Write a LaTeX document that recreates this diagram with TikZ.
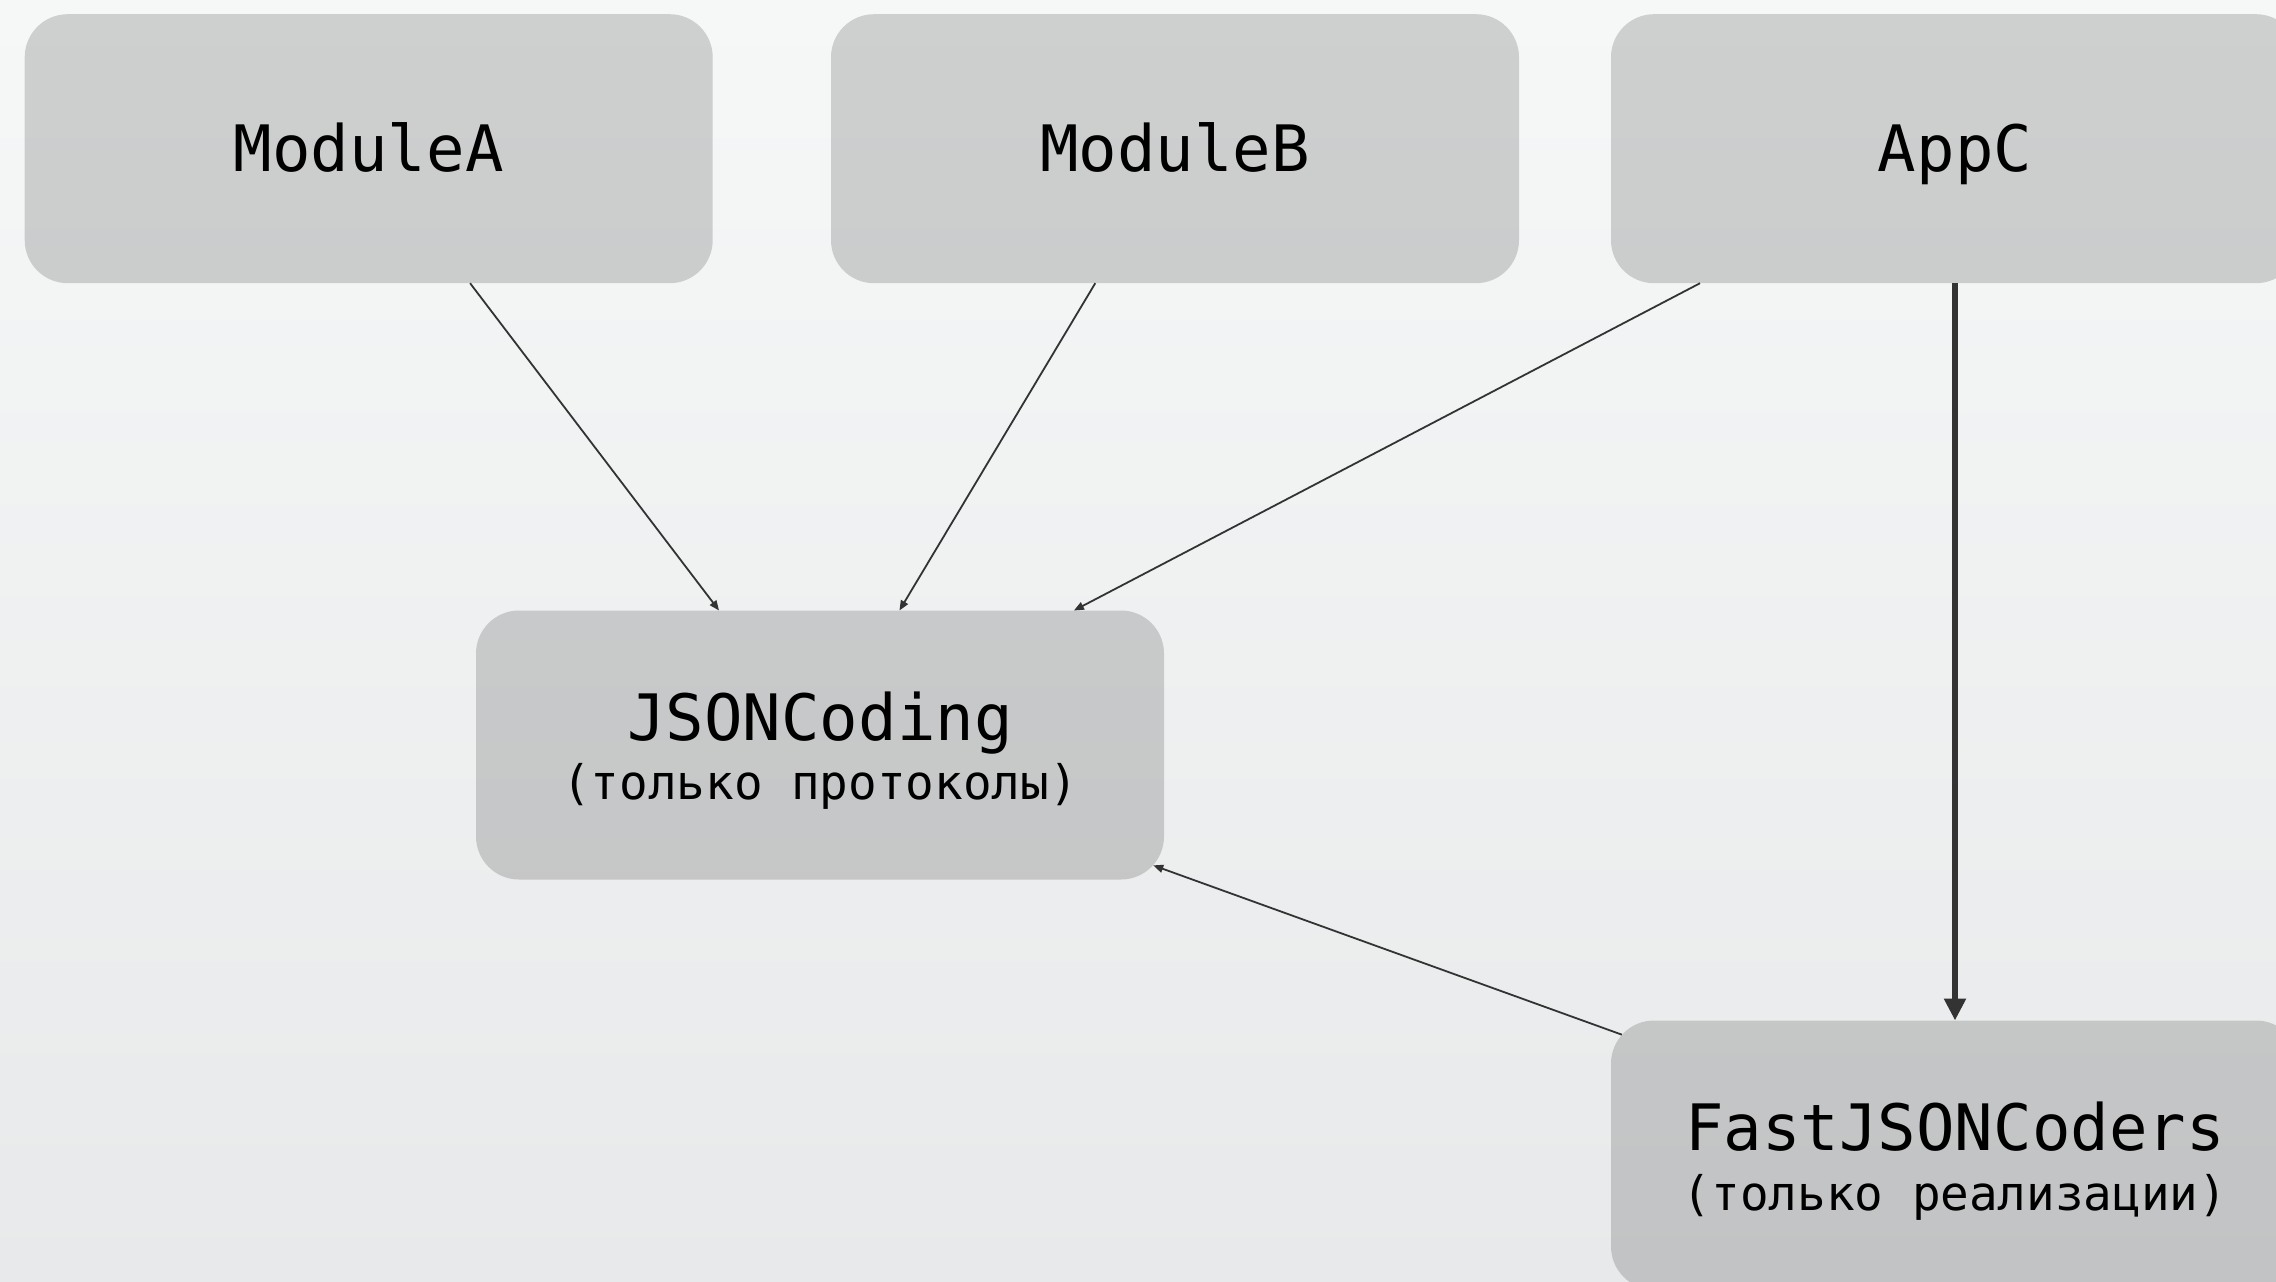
\documentclass[tikz,border=0pt]{standalone}
\usepackage{fontspec}
\setmonofont{DejaVu Sans Mono}
\usetikzlibrary{arrows.meta,calc}
\definecolor{bgtop}{RGB}{246,247,247}
\definecolor{bgbot}{RGB}{232,233,234}
\definecolor{edgegray}{RGB}{51,51,51}
\tikzset{
  modbox/.style={rectangle, rounded corners=43pt, fill=black, fill opacity=0.16,
    text opacity=1, minimum width=688pt, minimum height=269pt,
    inner sep=0pt, outer sep=0pt},
  title/.style={font=\ttfamily\fontsize{64}{76}\selectfont, anchor=base, inner sep=0pt},
  subtitle/.style={font=\ttfamily\fontsize{47.6}{56}\selectfont, anchor=base, inner sep=0pt},
  dep/.style={draw=edgegray, line width=1.8pt, -{Triangle[length=10pt,width=8pt]}},
  impl/.style={draw=edgegray, line width=6.5pt, -{Triangle[length=22pt,width=21pt]}},
}
\begin{document}
\begin{tikzpicture}[x=1pt,y=-1pt]
  \useasboundingbox (0,0) rectangle (2276,1282);
  \clip (0,0) rectangle (2276,1282);
  \shade[top color=bgtop, bottom color=bgbot] (0,0) rectangle (2276,1282);

  % module boxes
  \node[modbox] (modA) at (368.7,148.7) {};
  \node[modbox] (modB) at (1175,148.7) {};
  \node[modbox] (appC) at (1955,148.7) {};
  \node[modbox] (json) at (820,745) {};
  \node[modbox] (fast) at (1955,1155) {};

  % dependencies
  \draw[dep] (modA) -- (json);
  \draw[dep] (modB) -- (json);
  \draw[dep] (appC) -- (json);
  % this one meets both boxes on their rounded corners
  \draw[dep] ($(fast)!354.3pt!(json)$) -- ($(json)!354.3pt!(fast)$);
  \draw[impl] (appC) -- (fast);

  % labels
  \node[title] (modAtext) at (368.7,171.7) {ModuleA};
  \node[title] (modBtext) at (1175,171.7) {ModuleB};
  \node[title] (appCtext) at (1955,171.7) {AppC};
  \node[title] (jsontext) at (820,740) {JSONCoding};
  \node[subtitle] (jsonsub) at (820,799) {(только протоколы)};
  \node[title] (fasttext) at (1955,1150.7) {FastJSONCoders};
  \node[subtitle] (fastsub) at (1955,1210) {(только реализации)};
\end{tikzpicture}
\end{document}
